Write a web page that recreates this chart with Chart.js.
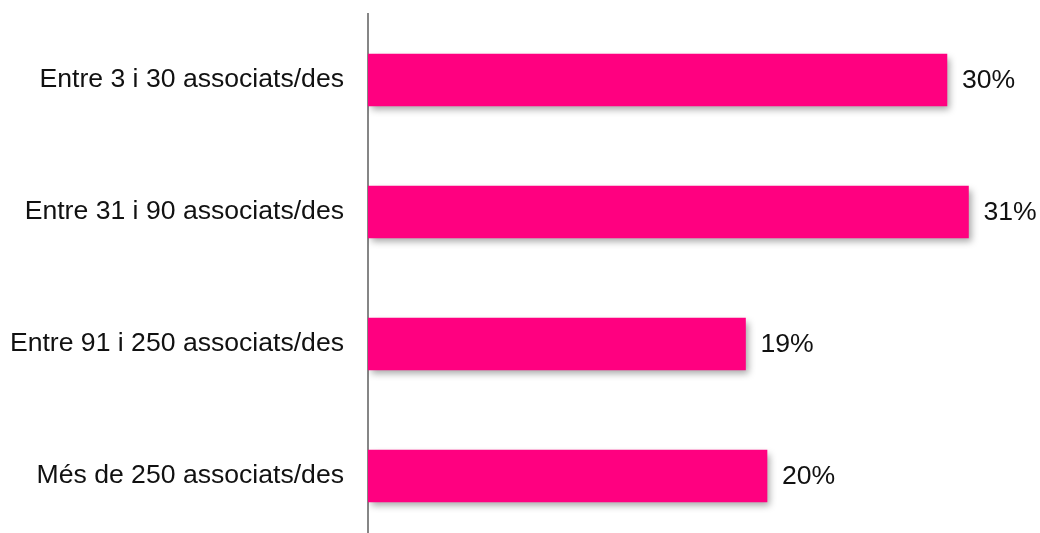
<!DOCTYPE html>
<html>
<head>
<meta charset="utf-8">
<script src="https://cdn.jsdelivr.net/npm/chart.js@4"></script>
<style>
  html, body { margin: 0; padding: 0; background: #fff; overflow: hidden; }
  #wrap { width: 1040px; height: 545px; }
</style>
</head>
<body>
<div id="wrap"><canvas id="myChart" width="1040" height="545"></canvas></div>
<script>
var categories = ['Entre 3 i 30 associats/des', 'Entre 31 i 90 associats/des', 'Entre 91 i 250 associats/des', 'Més de 250 associats/des'];
var values = [29.6, 30.7, 19.3, 20.4];
var valueLabels = ['30%', '31%', '19%', '20%'];

var barShadow = {
    id: 'barShadow',
    beforeDatasetDraw: function (chart) {
        var c = chart.ctx;
        c.save();
        c.shadowColor = 'rgba(0, 0, 0, 0.35)';
        c.shadowBlur = 7;
        c.shadowOffsetX = 3;
        c.shadowOffsetY = 4;
    },
    afterDatasetDraw: function (chart) {
        chart.ctx.restore();
    }
};

var endLabels = {
    id: 'endLabels',
    afterDatasetsDraw: function (chart) {
        var c = chart.ctx;
        var meta = chart.getDatasetMeta(0);
        c.save();
        c.fillStyle = '#111';
        c.font = '26.6px "Liberation Sans", Arial, sans-serif';
        c.textAlign = 'left';
        c.textBaseline = 'middle';
        meta.data.forEach(function (bar, i) {
            c.fillText(valueLabels[i], bar.x + 15, bar.y + 1);
        });
        c.restore();
    }
};

var ctx = document.getElementById('myChart').getContext('2d');
var myChart = new Chart(ctx, {
    type: 'bar',
    data: {
        labels: categories,
        datasets: [{
            data: values,
            backgroundColor: '#ff0080',
            barThickness: 52
        }]
    },
    options: {
        indexAxis: 'y',
        responsive: false,
        animation: false,
        layout: { padding: { top: 14, bottom: 3, right: 7, left: 0 } },
        plugins: {
            legend: { display: false },
            tooltip: { enabled: false }
        },
        scales: {
            x: { display: false, min: 0, max: 34 },
            y: {
                grid: { display: false, drawTicks: false },
                border: { display: true, color: '#868686', width: 2 },
                ticks: {
                    padding: 24,
                    color: '#111',
                    font: { family: '"Liberation Sans", Arial, sans-serif', size: 26.6 }
                },
                afterFit: function (scale) {
                    scale.width = 368;
                    scale.paddingTop = 0;
                    scale.paddingBottom = 0;
                }
            }
        }
    },
    plugins: [barShadow, endLabels]
});
</script>
</body>
</html>
